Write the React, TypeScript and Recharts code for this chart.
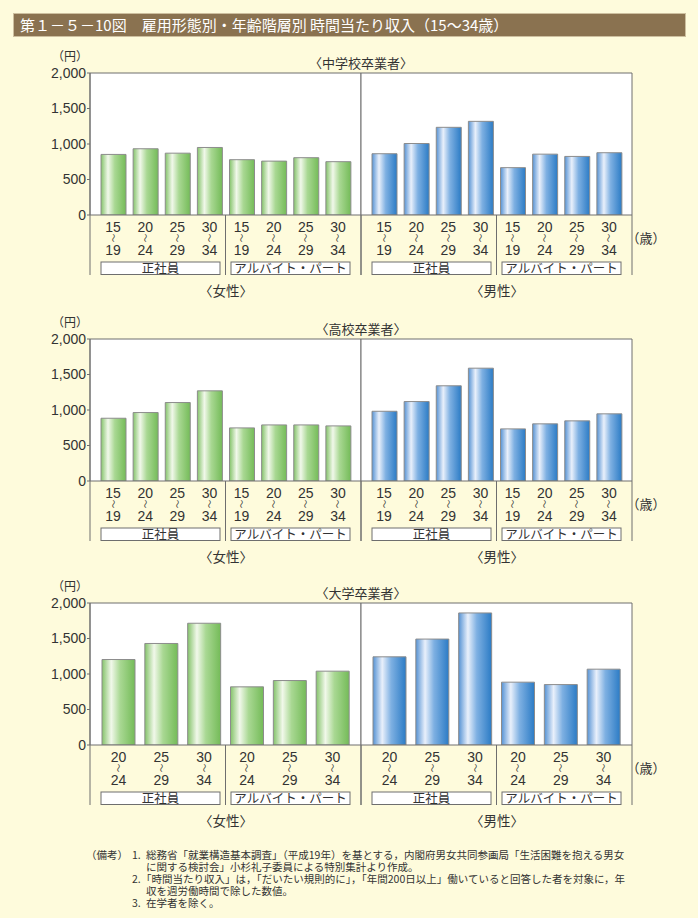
import React from "react";
import { BarChart, Bar, XAxis, YAxis, CartesianGrid, ReferenceLine } from "recharts";

// ---------- data ----------
const groups = ["正社員", "アルバイト・パート"];
const ages4 = ["15-19", "20-24", "25-29", "30-34"];
const ages3 = ["20-24", "25-29", "30-34"];
const yTicks = [0, 500, 1000, 1500, 2000];

// 中学校卒業者
const jhFemaleReg = [853, 933, 871, 951];
const jhFemalePart = [779, 759, 807, 751];
const jhMaleReg = [863, 1007, 1235, 1319];
const jhMalePart = [667, 857, 825, 877];
// 高校卒業者
const hsFemaleReg = [884, 964, 1105, 1270];
const hsFemalePart = [748, 790, 790, 776];
const hsMaleReg = [982, 1119, 1341, 1589];
const hsMalePart = [734, 805, 847, 946];
// 大学卒業者
const uniFemaleReg = [1204, 1430, 1715];
const uniFemalePart = [819, 908, 1040];
const uniMaleReg = [1242, 1492, 1860];
const uniMalePart = [885, 851, 1068];

const notes = [
  "総務省「就業構造基本調査」（平成19年）を基とする，内閣府男女共同参画局「生活困難を抱える男女",
  "に関する検討会」小杉礼子委員による特別集計より作成。",
  "「時間当たり収入」は，「だいたい規則的に」，「年間200日以上」働いていると回答した者を対象に，年",
  "収を週労働時間で除した数値。",
  "在学者を除く。",
];

// ---------- layout constants ----------
const PLOT_H = 142;
const MAIN_AX_H = 44;
const GRP_AX_H = 22;
const MARGIN_TOP = 10;
const CHART_H = MARGIN_TOP + PLOT_H + MAIN_AX_H + GRP_AX_H;
const HALF_W = 271;
const Y_AX_W = 50;
const LINE = "#6e6e6e";
const CJK = "'Noto Sans CJK JP', 'Noto Sans', sans-serif";
const NUM = "'Liberation Sans', Arial, sans-serif";
const BG = "#fefbdc";

function buildRows(ages: string[], reg: number[], part: number[]) {
  return [
    ...reg.map((v, i) => ({ age: ages[i], group: groups[0], value: v })),
    ...part.map((v, i) => ({ age: ages[i], group: groups[1], value: v })),
  ];
}

const AgeTick = (props: any) => {
  const { x, y, payload } = props;
  const [a, b] = String(payload.value).split("-");
  return (
    <g>
      <text x={x} y={y + 17} textAnchor="middle" fontSize={14} fill="#333" fontFamily={NUM}>
        {a}
      </text>
      <text
        transform={`translate(${x},${y + 23}) rotate(90)`}
        textAnchor="middle"
        dominantBaseline="central"
        fontSize={9}
        fill="#333"
        fontFamily={CJK}
      >
        〜
      </text>
      <text x={x} y={y + 40} textAnchor="middle" fontSize={14} fill="#333" fontFamily={NUM}>
        {b}
      </text>
    </g>
  );
};

const GroupTick = (props: any) => {
  const { x, y, payload, index } = props;
  const half = payload && typeof payload.offset === "number" && payload.offset > 0 ? payload.offset : HALF_W / 4;
  const c = x;
  const left = c - half;
  const right = c + half;
  const i = typeof index === "number" ? index : payload.index;
  const bx1 = i === 0 ? left + 11 : left + 5.5;
  const bx2 = i === 0 ? right - 5.5 : right - 11;
  const topPlot = y - MAIN_AX_H - PLOT_H;
  const axisY = y - MAIN_AX_H;
  const bottom = y + 16;
  return (
    <g>
      {i === 0 && <line x1={left} x2={left} y1={topPlot} y2={bottom} stroke={LINE} strokeWidth={1} />}
      <line x1={i === 0 ? right : left} x2={i === 0 ? right : left} y1={axisY} y2={bottom} stroke={LINE} strokeWidth={1} />
      {i !== 0 && <line x1={right} x2={right} y1={topPlot} y2={bottom} stroke={LINE} strokeWidth={1} />}
      <rect x={bx1} y={y + 3} width={bx2 - bx1} height={12.5} fill="#fff" stroke={LINE} strokeWidth={1} />
      <text x={(bx1 + bx2) / 2} y={y + 14} textAnchor="middle" fontSize={12.5} fill="#333" fontFamily={CJK}>
        {payload.value}
      </text>
    </g>
  );
};

function Gradients({ id, kind }: { id: string; kind: "green" | "blue" }) {
  const stops =
    kind === "green"
      ? [
          ["0%", "#84c36a"],
          ["28%", "#f1f8ea"],
          ["55%", "#a9d893"],
          ["100%", "#74bb58"],
        ]
      : [
          ["0%", "#5592d4"],
          ["28%", "#e9f0fb"],
          ["55%", "#7eb0e2"],
          ["100%", "#2b7bc5"],
        ];
  return (
    <defs>
      <linearGradient id={id} x1="0" y1="0" x2="1" y2="0">
        {stops.map(([o, c]) => (
          <stop key={o} offset={o} stopColor={c} />
        ))}
      </linearGradient>
    </defs>
  );
}

function Half({
  rows,
  withYAxis,
  gradId,
  kind,
  barSize,
}: {
  rows: any[];
  withYAxis: boolean;
  gradId: string;
  kind: "green" | "blue";
  barSize: number;
}) {
  const width = withYAxis ? Y_AX_W + HALF_W + 2 : HALF_W + 4;
  const margin = withYAxis
    ? { top: MARGIN_TOP, right: 2, bottom: 0, left: 0 }
    : { top: MARGIN_TOP, right: 2, bottom: 0, left: 2 };
  return (
    <BarChart width={width} height={CHART_H} data={rows} margin={margin}>
      <Gradients id={gradId} kind={kind} />
      <CartesianGrid fill="#ffffff" horizontal={false} vertical={false} xAxisId="b_grp" />
      <XAxis
        xAxisId="b_grp"
        dataKey="group"
        type="category"
        allowDuplicatedCategory={false}
        height={GRP_AX_H}
        tickLine={false}
        tickSize={0}
        tickMargin={0}
        axisLine={false}
        interval={0}
        tick={<GroupTick />}
      />
      <XAxis
        xAxisId="a_main"
        dataKey="age"
        type="category"
        padding={{ left: 7, right: 7 }}
        height={MAIN_AX_H}
        tickLine={false}
        tickSize={0}
        tickMargin={0}
        axisLine={{ stroke: LINE }}
        interval={0}
        tick={<AgeTick />}
      />
      <YAxis
        domain={[0, 2000]}
        ticks={yTicks}
        hide={!withYAxis}
        width={withYAxis ? Y_AX_W : 0}
        tickSize={3}
        tickMargin={1}
        tickLine={{ stroke: LINE }}
        axisLine={{ stroke: LINE }}
        tick={{ fontSize: 14, fill: "#333", fontFamily: NUM }}
        tickFormatter={(v: number) => v.toLocaleString("en-US")}
        allowDataOverflow
      />
      <ReferenceLine y={2000} xAxisId="a_main" stroke={LINE} strokeWidth={1} ifOverflow="extendDomain" />
      <Bar
        xAxisId="a_main"
        dataKey="value"
        fill={`url(#${gradId})`}
        stroke="#8c8c8c"
        strokeWidth={1}
        barSize={barSize}
        isAnimationActive={false}
      />
    </BarChart>
  );
}

function Panel({
  id,
  title,
  plotTop,
  ages,
  fReg,
  fPart,
  mReg,
  mPart,
  barSize,
}: {
  id: string;
  title: string;
  plotTop: number;
  ages: string[];
  fReg: number[];
  fPart: number[];
  mReg: number[];
  mPart: number[];
  barSize: number;
}) {
  const femaleRows = buildRows(ages, fReg, fPart);
  const maleRows = buildRows(ages, mReg, mPart);
  const chartTop = plotTop - MARGIN_TOP;
  const plotBottom = plotTop + PLOT_H;
  const label = (text: string, cx: number, cy: number, size: number) => (
    <div
      style={{
        position: "absolute",
        left: cx - 100,
        top: cy - 10,
        width: 200,
        height: 20,
        lineHeight: "20px",
        textAlign: "center",
        fontSize: size,
        fontFamily: CJK,
        color: "#333",
        whiteSpace: "nowrap",
      }}
    >
      {text}
    </div>
  );
  return (
    <>
      {label(title, 361, plotTop - 10, 13)}
      {label("（円）", 70, plotTop - 17, 12)}
      {label("（歳）", 646, plotBottom + 23, 13)}
      {label("〈女性〉", 226, plotBottom + 75, 13.5)}
      {label("〈男性〉", 497, plotBottom + 75, 13.5)}
      <div style={{ position: "absolute", left: 90 - Y_AX_W, top: chartTop }}>
        <Half rows={femaleRows} withYAxis gradId={`g-${id}`} kind="green" barSize={barSize} />
      </div>
      <div style={{ position: "absolute", left: 361 - 2, top: chartTop }}>
        <Half rows={maleRows} withYAxis={false} gradId={`b-${id}`} kind="blue" barSize={barSize} />
      </div>
    </>
  );
}

export default function App() {
  const noteStyle: React.CSSProperties = {
    position: "absolute",
    lineHeight: "12px",
    fontSize: 10.5,
    fontFamily: CJK,
    color: "#333",
    whiteSpace: "nowrap",
  };
  return (
    <div
      style={{
        position: "absolute",
        left: 0,
        top: 0,
        width: 698,
        height: 918,
        background: BG,
        overflow: "hidden",
      }}
    >
      <div
        style={{
          position: "absolute",
          left: 13,
          top: 13,
          width: 665,
          height: 22,
          background: "#8a7250",
          border: "1px solid #cdbf9f",
          color: "#fff",
          fontFamily: CJK,
          fontSize: 15,
          lineHeight: "22px",
          paddingLeft: 6,
          boxSizing: "content-box",
          whiteSpace: "nowrap",
        }}
      >
        第１－５－10図　雇用形態別・年齢階層別 時間当たり収入（15～34歳）
      </div>

      <Panel id="jh" title="〈中学校卒業者〉" plotTop={73} ages={ages4} fReg={jhFemaleReg} fPart={jhFemalePart} mReg={jhMaleReg} mPart={jhMalePart} barSize={25} />
      <Panel id="hs" title="〈高校卒業者〉" plotTop={339} ages={ages4} fReg={hsFemaleReg} fPart={hsFemalePart} mReg={hsMaleReg} mPart={hsMalePart} barSize={25} />
      <Panel id="uni" title="〈大学卒業者〉" plotTop={603} ages={ages3} fReg={uniFemaleReg} fPart={uniFemalePart} mReg={uniMaleReg} mPart={uniMalePart} barSize={33} />

      <div style={{ ...noteStyle, left: 86, top: 849 }}>（備考）</div>
      <div style={{ ...noteStyle, left: 132, top: 849 }}>
        1.
        <br />
        <br />
        2.
        <br />
        <br />
        3.
      </div>
      <div style={{ ...noteStyle, left: 146, top: 849 }}>
        {notes[0]}
        <br />
        {notes[1]}
        <br />
        <span style={{ marginLeft: -5 }}>{notes[2]}</span>
        <br />
        {notes[3]}
        <br />
        {notes[4]}
      </div>
    </div>
  );
}
